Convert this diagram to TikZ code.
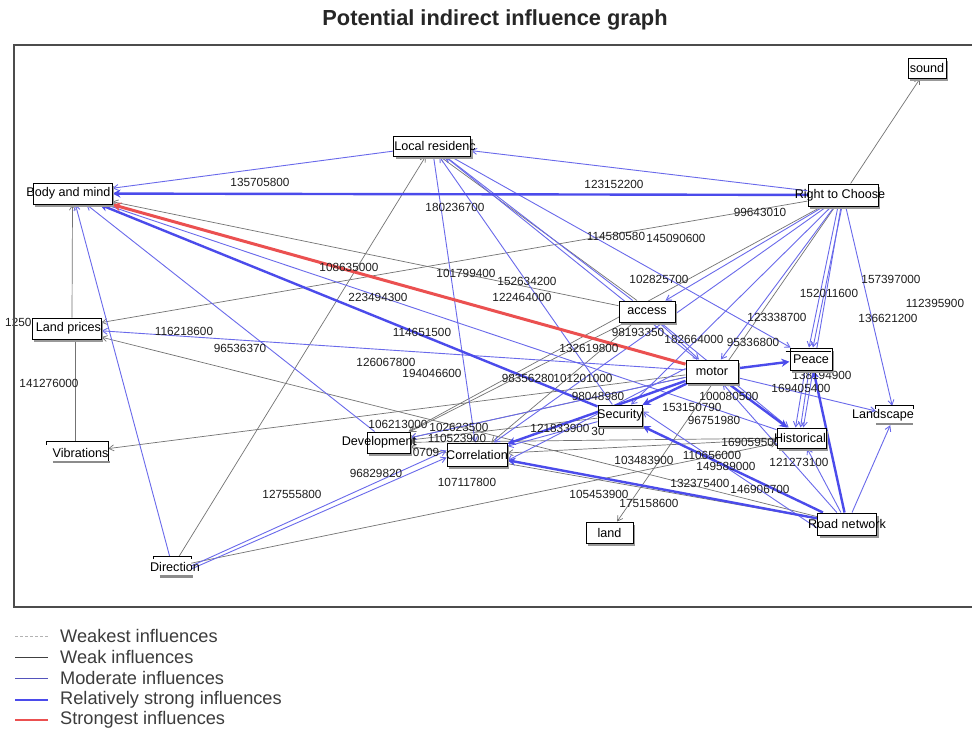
\documentclass[tikz,border=0pt]{standalone}
\usepackage{fontspec}
\setmainfont{Liberation Sans}
\usetikzlibrary{arrows.meta,shadows}
\pgfdeclarelayer{background}
\pgfdeclarelayer{bottom}
\pgfsetlayers{bottom,background,main}
\definecolor{wk}{RGB}{115,115,115}
\definecolor{md}{RGB}{105,105,235}
\definecolor{rs}{RGB}{75,75,235}
\definecolor{sg}{RGB}{235,80,80}
\definecolor{txt}{RGB}{30,30,30}
\definecolor{lgt}{RGB}{60,60,60}
\begin{document}
\begin{tikzpicture}[x=1pt,y=-1pt,
 wkedge/.style={draw=wk, line width=0.7pt, -{Straight Barb[length=5pt,width=6pt]}},
 wkline/.style={draw=wk, line width=0.7pt},
 mdedge/.style={draw=md, line width=0.9pt, -{Straight Barb[length=5pt,width=6pt]}},
 rsedge/.style={draw=rs, line width=2.4pt, -{Stealth[length=8pt,width=8pt]}},
 sgedge/.style={draw=sg, line width=3pt, -{Stealth[length=9pt,width=9pt]}},
 nd/.style={draw=black, line width=1pt, fill=white, inner sep=0pt, font=\fontsize{12.6}{14}\selectfont,
   drop shadow={shadow xshift=2pt, shadow yshift=-2.5pt, fill=black!40, opacity=1}},
 op/.style={inner sep=0pt, font=\fontsize{12.6}{14}\selectfont},
 lb/.style={font=\fontsize{11.8}{13}\selectfont, text=txt, inner sep=0pt},
 lg/.style={font=\fontsize{18.2}{20}\selectfont, text=lgt, inner sep=0pt, anchor=west},
]
\useasboundingbox (0,0) rectangle (972,731);
\begin{pgfonlayer}{bottom}
\fill[white] (0,0) rectangle (972,731);
\end{pgfonlayer}

% title and frame
\node[font=\bfseries\fontsize{21.8}{25}\selectfont, text=black!85] (title) at (495,20) {Potential indirect influence graph};
\draw[line width=1.4pt, black!70] (14,45) rectangle (980,607);

% nodes
\node[nd, minimum width=38pt, minimum height=20pt] (snd) at (927,68) {\makebox[0pt]{sound}};
\node[nd, minimum width=79pt, minimum height=21pt] (bm) at (72.5,193.5) {\makebox[0pt]{\hspace*{-8pt}Body and mind}};
\node[nd, minimum width=77pt, minimum height=20pt] (lr) at (432,146) {\makebox[0pt]{\hspace*{6pt}Local residenc}};
\node[nd, minimum width=70pt, minimum height=22pt] (rtc) at (843,195) {\makebox[0pt]{\hspace*{-6pt}Right to Choose}};
\node[nd, minimum width=69pt, minimum height=21pt] (lp) at (66.5,328.5) {\makebox[0pt]{\hspace*{4pt}Land prices}};
\node[nd, minimum width=56pt, minimum height=21pt] (acc) at (647,311.5) {\makebox[0pt]{access}};
\node[nd, minimum width=52pt, minimum height=23pt] (mot) at (712,371.5) {\makebox[0pt]{motor}};
\node[nd, minimum width=42pt, minimum height=22pt] (pea) at (811,359) {\makebox[0pt]{Peace}};
\node[op, minimum width=37pt, minimum height=19pt] (lsc) at (894.5,415.5) {\makebox[0pt]{\hspace*{-23pt}Landscape}};
\node[nd, minimum width=49pt, minimum height=20pt] (his) at (801.5,438) {\makebox[0pt]{\hspace*{-3pt}Historical}};
\node[nd, minimum width=44pt, minimum height=21pt] (sec) at (620,415.5) {\makebox[0pt]{Security}};
\node[nd, minimum width=59pt, minimum height=22pt] (rn) at (847,524) {\makebox[0pt]{Road network}};
\node[nd, minimum width=47pt, minimum height=21pt] (lnd) at (609.5,532.5) {\makebox[0pt]{land}};
\node[nd, minimum width=60pt, minimum height=23pt] (cor) at (477,454.5) {\makebox[0pt]{Correlation}};
\node[nd, minimum width=43pt, minimum height=21pt] (dev) at (388.5,442.5) {\makebox[0pt]{\hspace*{-19pt}Development}};
\node[op, minimum width=61pt, minimum height=21pt] (vib) at (77.5,452.5) {\makebox[0pt]{\hspace*{6pt}Vibrations}};
\node[op, minimum width=37pt, minimum height=21pt] (dir) at (172.5,567) {\makebox[0pt]{\hspace*{5pt}Direction}};

% partial frames of open nodes
\draw[line width=1pt] ([yshift=-3pt]lsc.north west) -- (lsc.north west) -- (lsc.north east) -- ([yshift=-3pt]lsc.north east);
\draw[line width=2.5pt, black!45] ([yshift=1pt]lsc.south west) -- ([yshift=1pt]lsc.south east);
\draw[line width=1pt] ([yshift=-3pt]vib.north west) -- (vib.north west) -- (vib.north east) -- (vib.south east);
\draw[line width=2.5pt, black!45] ([xshift=6pt,yshift=1pt]vib.south west) -- ([xshift=2pt,yshift=1pt]vib.south east);
\draw[line width=1pt] ([yshift=-3pt]dir.north west) -- (dir.north west) -- (dir.north east) -- ([yshift=-3pt]dir.north east);
\draw[line width=2.5pt, black!45] ([xshift=6pt,yshift=1pt]dir.south west) -- ([xshift=2pt,yshift=1pt]dir.south east);
\draw[line width=1pt] ([xshift=-4pt,yshift=-4pt]pea.north west) -- ([xshift=-2pt,yshift=-4pt]pea.north east);

\begin{pgfonlayer}{background}
% weak influences
\draw[wkedge] (rtc) -- (snd);
\draw[wkedge] (rtc) -- (lp);
\draw[wkedge] (acc) -- (bm);
\draw[wkedge] ([xshift=5.5pt]lp.north) -- (bm.south);
\draw[wkline] ([xshift=8.5pt]lp.south) -- ([xshift=-2.5pt]vib.north);
\draw[wkedge] (mot) -- (vib);
\draw[wkedge] (dir) -- (lr);
\draw[wkedge] (dir) -- (his);
\draw[wkedge] (rn) -- (lp);
\draw[wkedge] (rtc) -- (dev);
\draw[wkedge] (acc) -- (cor);
\draw[wkedge] (acc) -- (dev);
\draw[wkedge] (sec) -- (dev);
\draw[wkedge] (his) -- (dev);
\draw[wkedge] (his) -- (cor);
\draw[wkedge] (rtc) -- (lnd);
\draw[wkedge] (rn) -- (dev);
\draw[wkedge] ([xshift=-10pt]acc.north) -- ([xshift=8pt]lr.south);
\draw[wkedge] (mot) -- (dev);
% moderate influences
\draw[mdedge] (lr) -- (bm);
\draw[mdedge] (rtc) -- (lr);
\draw[mdedge] (dev) -- (bm);
\draw[mdedge] (dir) -- (bm);
\draw[mdedge] (his) -- (bm);
\draw[mdedge] (mot) -- (lp);
\draw[mdedge] (lr) -- (cor);
\draw[mdedge] ([xshift=-5pt]rtc.south) -- ([xshift=-2pt]pea.north);
\draw[mdedge] ([xshift=-1pt]rtc.south) -- ([xshift=2pt]pea.north);
\draw[mdedge] (rtc) -- (lsc);
\draw[mdedge] (rtc) -- (his);
\draw[mdedge] (rtc) -- (sec);
\draw[mdedge] (rtc) -- (cor);
\draw[mdedge] (rtc) -- (acc);
\draw[mdedge] (rtc) -- (mot);
\draw[mdedge] (acc) -- (lr);
\draw[mdedge] (mot) -- (lr);
\draw[mdedge] (sec) -- (lr);
\draw[mdedge] (lr) -- (pea);
\draw[mdedge] (mot) -- (lsc);
\draw[mdedge] (acc) -- (mot);
\draw[mdedge] (acc) -- (his);
\draw[mdedge] (sec) -- (cor);
\draw[mdedge] ([yshift=-2pt]dir.east) -- ([yshift=-3pt]cor.west);
\draw[mdedge] ([yshift=1pt]dir.east) -- ([yshift=4pt]cor.west);
\draw[mdedge] ([xshift=-6pt]pea.south) -- ([xshift=-6pt]his.north);
\draw[mdedge] ([xshift=-2pt]pea.south) -- ([xshift=-1pt]his.north);
\draw[mdedge] (rn) -- (his);
\draw[mdedge] (rn) -- (lsc);
\draw[mdedge] (rn) -- (mot);
\draw[mdedge] ([yshift=-4pt]rn.west) -- ([yshift=4pt]sec.east);
\draw[mdedge] (mot) -- (dev);
\draw[mdedge] ([yshift=3pt]mot.west) -- ([yshift=-6pt]cor.east);
% relatively strong influences
\draw[rsedge] (rtc) -- (bm);
\draw[rsedge] (sec) -- (bm);
\draw[rsedge] (mot) -- (pea);
\draw[rsedge] (mot) -- (his);
\draw[rsedge] (mot) -- (sec);
\draw[rsedge] (mot) -- (cor);
\draw[rsedge] (rn) -- (cor);
\draw[rsedge] (rn) -- (sec);
\draw[rsedge] (rn) -- (pea);
% strongest influence
\draw[sgedge] (mot) -- (bm);

% connector labels
\node[lb] (t01) at (260,182) {135705800};
\node[lb] (t02) at (614,184) {123152200};
\node[lb] (t03) at (455,207) {180236700};
\node[lb] (t04) at (760,212) {99643010};
\node[lb] (t05) at (616,236) {114580580};
\node[lb] (t06) at (676,238) {145090600};
\node[lb] (t07) at (349,267) {108635000};
\node[lb] (t08) at (466,273) {101799400};
\node[lb] (t09) at (527,281) {152634200};
\node[lb] (t10) at (522,297) {122464000};
\node[lb] (t11) at (378,297) {223494300};
\node[lb] (t12) at (659,279) {102825700};
\node[lb] (t13) at (891,279) {157397000};
\node[lb] (t14) at (829,293) {152011600};
\node[lb] (t15) at (935,303) {112395900};
\node[lb] (t16) at (777,317) {123338700};
\node[lb] (t17) at (888,318) {136621200};
\node[lb, anchor=west] (t18) at (5,322) {1250};
\node[lb] (t19) at (184,331) {116218600};
\node[lb] (t20) at (240,348) {96536370};
\node[lb] (t21) at (49,383) {141276000};
\node[lb] (t22) at (422,332) {114651500};
\node[lb] (t23) at (638,332) {98193350};
\node[lb] (t24) at (694,339) {182664000};
\node[lb] (t25) at (753,342) {95336800};
\node[lb] (t26) at (589,348) {132619800};
\node[lb] (t27) at (386,362) {126067800};
\node[lb] (t28) at (432,373) {194046600};
\node[lb] (t29) at (528,378) {98356280};
\node[lb] (t30) at (583,378) {101201000};
\node[lb] (t31) at (598,396) {98048980};
\node[lb] (t32) at (822,375) {138194900};
\node[lb] (t33) at (801,388) {169405400};
\node[lb] (t34) at (729,396) {100080500};
\node[lb] (t35) at (692,407) {153150790};
\node[lb] (t36) at (714,420) {96751980};
\node[lb] (t37) at (398,424) {106213000};
\node[lb] (t38) at (459,427) {102623500};
\node[lb] (t39) at (457,438.5) {110523900};
\node[lb] (t40) at (426,452) {0709};
\node[lb] (t41) at (560,428) {121833900};
\node[lb] (t42) at (598,431) {30};
\node[lb] (t43) at (751,442) {169059500};
\node[lb] (t44) at (644,460) {103483900};
\node[lb] (t45) at (712,455) {110656000};
\node[lb] (t46) at (726,466) {149589000};
\node[lb] (t47) at (799,462) {121273100};
\node[lb] (t48) at (376,473) {96829820};
\node[lb] (t49) at (467,482) {107117800};
\node[lb] (t50) at (700,483) {132375400};
\node[lb] (t51) at (760,489) {146906700};
\node[lb] (t52) at (292,494) {127555800};
\node[lb] (t53) at (599,494) {105453900};
\node[lb] (t54) at (649,503) {175158600};
\end{pgfonlayer}

% legend
\coordinate (a1) at (15,636); \coordinate (b1) at (48,636);
\coordinate (a2) at (15,657); \coordinate (b2) at (48,657);
\coordinate (a3) at (15,678); \coordinate (b3) at (48,678);
\coordinate (a4) at (15,700); \coordinate (b4) at (48,700);
\coordinate (a5) at (15,720); \coordinate (b5) at (48,720);
\draw[black!30, line width=0.8pt, dash pattern=on 3pt off 2pt] (a1) -- (b1);
\draw[black!75, line width=0.9pt] (a2) -- (b2);
\draw[md!80!black, line width=1pt] (a3) -- (b3);
\draw[rs, line width=2.6pt] (a4) -- (b4);
\draw[sg, line width=2.8pt] (a5) -- (b5);
\node[lg] (g1) at (60,636) {Weakest influences};
\node[lg] (g2) at (60,657) {Weak influences};
\node[lg] (g3) at (60,678) {Moderate influences};
\node[lg] (g4) at (60,700) {Relatively strong influences};
\node[lg] (g5) at (60,720) {Strongest influences};
\end{tikzpicture}
\end{document}
